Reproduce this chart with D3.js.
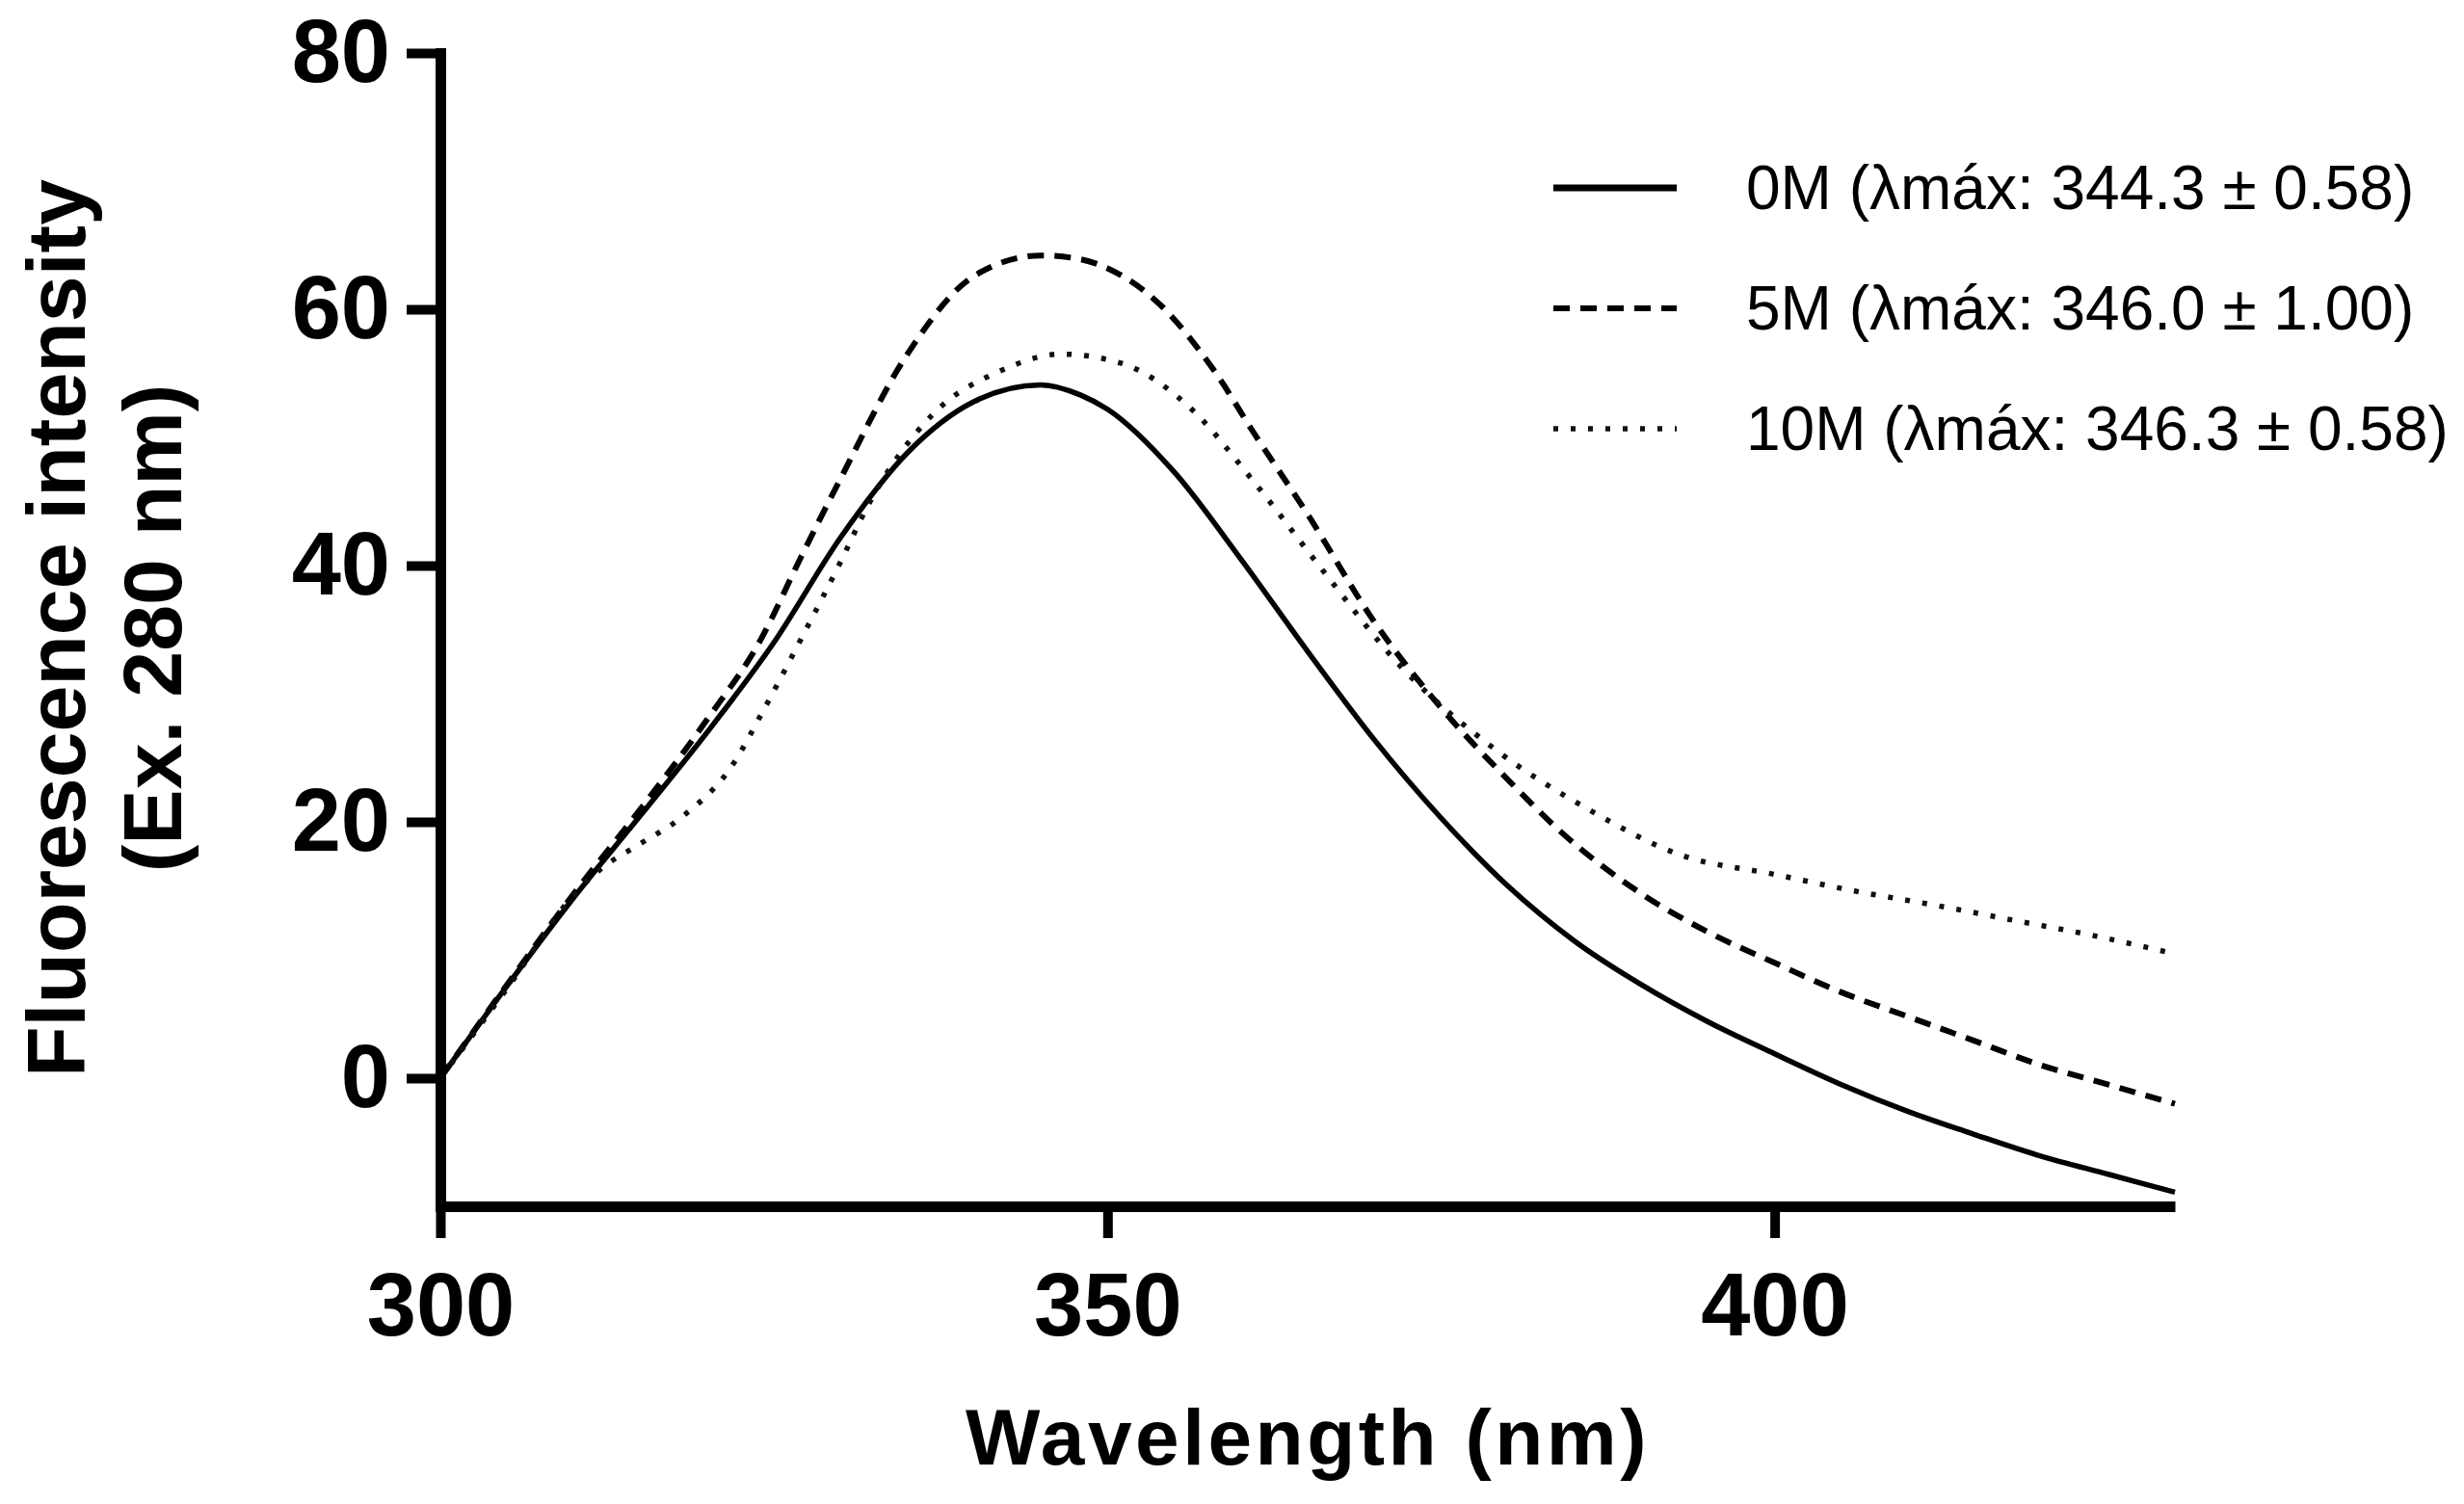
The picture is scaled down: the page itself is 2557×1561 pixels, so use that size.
<!DOCTYPE html>
<html>
<head>
<meta charset="utf-8">
<script src="https://cdn.jsdelivr.net/npm/d3@7"></script>
<style>
  html, body { margin: 0; padding: 0; background: #fff; }
  svg { display: block; }
</style>
</head>
<body>
<svg id="chart" width="2557" height="1561"></svg>
<script>
// ---- Data ----
const wl0 = [300, 305, 310, 315, 320, 325, 330, 335, 340, 345, 348, 350, 355, 360, 365, 370, 375, 380, 385, 390, 395, 400, 405, 410, 415, 420, 425, 430];
const s0  = [0, 7.2, 14.1, 20.5, 27.0, 34.0, 42.2, 48.8, 52.8, 54.1, 53.3, 52.2, 47.3, 40.5, 33.3, 26.4, 20.3, 15.0, 10.7, 7.3, 4.4, 1.9, -0.5, -2.6, -4.4, -6.1, -7.5, -8.9];

const wl5 = [300, 305, 310, 315, 320, 324, 327, 330, 335, 340, 345, 348, 350, 354, 358, 361, 365, 370, 375, 380, 384, 390, 395, 400, 405, 410, 415, 420, 425, 430];
const s5  = [0, 7.3, 14.4, 21.0, 28.0, 34.2, 40.6, 46.8, 56.5, 62.6, 64.2, 63.9, 63.2, 60.3, 55.2, 50.3, 44.0, 35.6, 28.9, 23.3, 19.2, 14.4, 11.4, 9.0, 6.7, 4.8, 2.9, 1.0, -0.5, -2.0];

const wl10 = [300, 305, 310, 312, 315, 318, 322, 324, 327, 330, 332, 337, 342, 346.5, 351, 356, 361, 366, 372, 379, 386, 393, 400, 406, 412, 418, 424, 430];
const s10  = [0, 7.0, 14.3, 16.3, 18.3, 20.3, 24.6, 28.3, 34.2, 40.3, 44.6, 51.9, 55.2, 56.5, 55.8, 52.5, 46.5, 39.8, 32.1, 25.7, 21.0, 17.4, 15.9, 14.6, 13.5, 12.3, 11.1, 9.7];

const seriesNames = ["0M (λmáx: 344.3 ± 0.58)", "5M (λmáx: 346.0 ± 1.00)", "10M (λmáx: 346.3 ± 0.58)"];
const xTicks = [300, 350, 400];
const yTicks = [0, 20, 40, 60, 80];
const xDomain = [300, 430];
const yDomain = [-10, 80];
const xTitle = "Wavelength (nm)";
const yTitle1 = "Fluorescence intensity";
const yTitle2 = "(Ex. 280 nm)";

(function () {
  // ---- Layout ----
  const svg = d3.select("#chart");
  const mLeft = 457, mRight = 2257, mTop = 55, mBottom = 1252;
  const x = d3.scaleLinear().domain(xDomain).range([mLeft, mRight]);
  const y = d3.scaleLinear().domain(yDomain).range([mBottom, mTop]);

  const font = "'Liberation Sans', Arial, Helvetica, sans-serif";

  const styles = [
    { dash: null, width: 5.5, color: "#000" },
    { dash: "17,11", width: 6, color: "#000" },
    { dash: "5,13", width: 5.5, color: "#111" }
  ];

  const series = [
    wl0.map((w, i) => [w, s0[i]]),
    wl5.map((w, i) => [w, s5[i]]),
    wl10.map((w, i) => [w, s10[i]])
  ];

  const line = d3.line()
    .x(d => x(d[0]))
    .y(d => y(d[1]))
    .curve(d3.curveMonotoneX);

  // curves
  svg.append("g").selectAll("path")
    .data(series)
    .join("path")
    .attr("d", d => line(d))
    .attr("fill", "none")
    .attr("stroke", (d, i) => styles[i].color)
    .attr("stroke-width", (d, i) => styles[i].width)
    .attr("stroke-dasharray", (d, i) => styles[i].dash)
    .attr("stroke-linejoin", "round");

  // y axis
  const gy = svg.append("g")
    .attr("transform", `translate(${mLeft},0)`)
    .call(d3.axisLeft(y).tickValues(yTicks).tickSize(35).tickSizeOuter(0).tickPadding(17).tickFormat(d3.format("d")));
  gy.select(".domain").attr("stroke", "#000").attr("stroke-width", 11).attr("stroke-linecap", "square");
  gy.selectAll(".tick line").attr("stroke", "#000").attr("stroke-width", 10);
  gy.selectAll(".tick text")
    .attr("font-family", font).attr("font-weight", "bold").attr("font-size", 92).attr("fill", "#000");

  // x axis
  const gx = svg.append("g")
    .attr("transform", `translate(0,${mBottom})`)
    .call(d3.axisBottom(x).tickValues(xTicks).tickSize(33).tickSizeOuter(0).tickPadding(36).tickFormat(d3.format("d")));
  gx.select(".domain").attr("stroke", "#000").attr("stroke-width", 11);
  gx.selectAll(".tick line").attr("stroke", "#000").attr("stroke-width", 10);
  gx.selectAll(".tick text")
    .attr("font-family", font).attr("font-weight", "bold").attr("font-size", 92).attr("fill", "#000");

  // axis titles
  svg.append("text")
    .attr("x", (mLeft + mRight) / 2).attr("y", 1520)
    .attr("text-anchor", "middle")
    .attr("font-family", font).attr("font-weight", "bold").attr("font-size", 82)
    .attr("letter-spacing", 3.5)
    .text(xTitle);

  const yt = svg.append("g").attr("transform", "translate(0,652) rotate(-90)");
  yt.append("text")
    .attr("x", 0).attr("y", 88)
    .attr("text-anchor", "middle")
    .attr("font-family", font).attr("font-weight", "bold").attr("font-size", 86)
    .text(yTitle1);
  yt.append("text")
    .attr("x", 0).attr("y", 188)
    .attr("text-anchor", "middle")
    .attr("font-family", font).attr("font-weight", "bold").attr("font-size", 86)
    .text(yTitle2);

  // legend
  const legendY = [195, 320, 445];
  const lg = svg.append("g");
  seriesNames.forEach((name, i) => {
    lg.append("line")
      .attr("x1", 1612).attr("x2", 1740)
      .attr("y1", legendY[i]).attr("y2", legendY[i])
      .attr("stroke", styles[i].color)
      .attr("stroke-width", i === 0 ? 7 : styles[i].width)
      .attr("stroke-dasharray", styles[i].dash);
    lg.append("text")
      .attr("x", 1812).attr("y", legendY[i] + 22)
      .attr("font-family", font).attr("font-size", 64).attr("fill", "#000")
      .text(name);
  });
})();
</script>
</body>
</html>
